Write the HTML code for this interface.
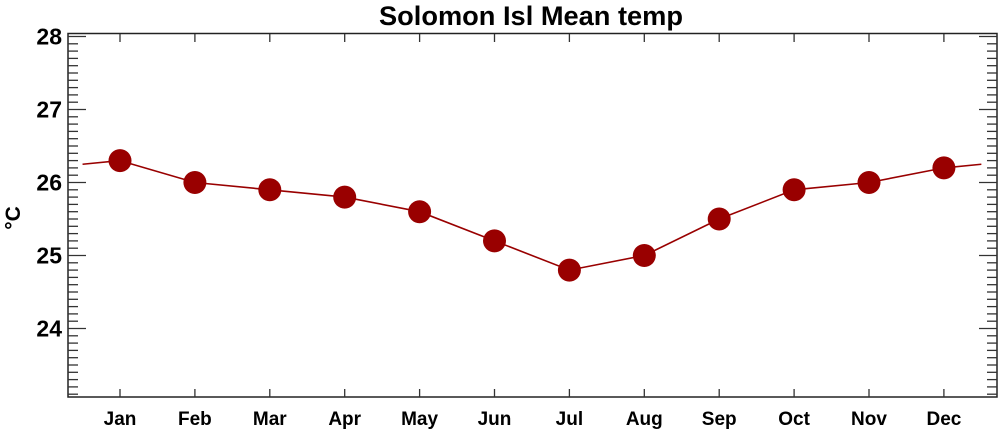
<!DOCTYPE html>
<html><head><meta charset="utf-8"><style>html,body{margin:0;padding:0;background:#fff}svg{display:block}</style></head>
<body>
<svg id="s" width="1000" height="432" xmlns="http://www.w3.org/2000/svg" font-family="Liberation Sans, Arial, sans-serif" font-weight="bold">
<text x="531" y="25" font-size="27" text-anchor="middle" textLength="304" lengthAdjust="spacingAndGlyphs">Solomon Isl Mean temp</text>
<text transform="translate(20,218) rotate(-90)" font-size="21" text-anchor="middle">°C</text>
<rect x="68" y="33.5" width="929" height="363.5" fill="none" stroke="#222" stroke-width="1.5"/>
<g id="t" stroke="#333" stroke-width="1.3"></g>
<g id="l" font-size="23" text-anchor="end"></g>
<g id="m" font-size="19" text-anchor="middle"></g>
<polyline id="p" fill="none" stroke="#990000" stroke-width="1.6"/>
<g id="d" fill="#990000"></g>
</svg>
<script>
var ns="http://www.w3.org/2000/svg";
function el(p,n,a,txt){var e=document.createElementNS(ns,n);for(var k in a)e.setAttribute(k,a[k]);if(txt)e.textContent=txt;document.getElementById(p).appendChild(e);}
function Y(v){return 36.5+(28-v)*73;}
function X(m){return 120+(m-1)*74.9;}
for(var i=0;i<=50;i++){var v=23+i*0.1;var y=Y(v);if(y<34||y>397)continue;var maj=(i%10==0);
el("t","line",{x1:68,x2:maj?86:78,y1:y,y2:y});el("t","line",{x1:997,x2:maj?979:987,y1:y,y2:y});
if(maj&&v>23.5)el("l","text",{x:62,y:y+8},String(Math.round(v)));}
var mn=["Jan","Feb","Mar","Apr","May","Jun","Jul","Aug","Sep","Oct","Nov","Dec"];
var vals=[26.3,26.0,25.9,25.8,25.6,25.2,24.8,25.0,25.5,25.9,26.0,26.2];
for(var m=1;m<=12;m++){var x=X(m);el("t","line",{x1:x,x2:x,y1:34,y2:42});el("t","line",{x1:x,x2:x,y1:397,y2:389});
el("m","text",{x:x,y:425},mn[m-1]);}
var w=(vals[0]+vals[11])/2;var pts=[X(0.5)+","+Y(w)];
for(var m=1;m<=12;m++){pts.push(X(m)+","+Y(vals[m-1]));el("d","circle",{cx:X(m),cy:Y(vals[m-1]),r:11.5});}
pts.push(X(12.5)+","+Y(w));document.getElementById("p").setAttribute("points",pts.join(" "));
</script>
</body></html>
